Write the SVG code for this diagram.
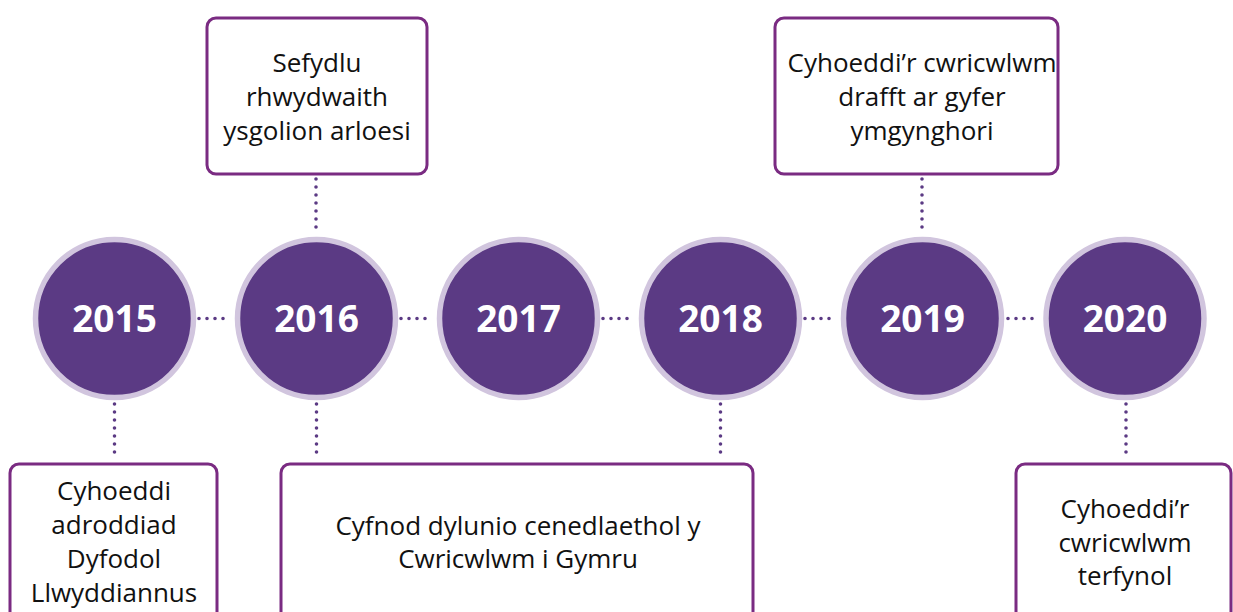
<svg xmlns="http://www.w3.org/2000/svg" width="1233" height="612" viewBox="0 0 1233 612">
<defs>
<style>
.ring{fill:#5b3a84;stroke:#d1c5de;stroke-width:5.5}
.year{fill:#ffffff;font-family:"Open Sans","Liberation Sans",sans-serif;font-weight:bold;font-size:37px;text-anchor:middle}
.box{fill:#ffffff;stroke:#7a2b82;stroke-width:3}
.lbl{fill:#111111;font-family:"Open Sans","Liberation Sans",sans-serif;font-size:26px;text-anchor:middle}
.dot{fill:none;stroke:#5b3a84;stroke-width:3.6;stroke-linecap:round;stroke-dasharray:0 8}
</style>
</defs>
<rect width="1233" height="612" fill="#ffffff"/>
<g id="connectors">
<line class="dot" x1="199" y1="318.5" x2="231" y2="318.5"/>
<line class="dot" x1="401" y1="318.5" x2="433" y2="318.5"/>
<line class="dot" x1="603" y1="318.5" x2="635" y2="318.5"/>
<line class="dot" x1="805" y1="318.5" x2="837" y2="318.5"/>
<line class="dot" x1="1008" y1="318.5" x2="1040" y2="318.5"/>
<line class="dot" x1="316" y1="179" x2="316" y2="232"/>
<line class="dot" x1="922" y1="179" x2="922" y2="232"/>
<line class="dot" x1="114.5" y1="404" x2="114.5" y2="457"/>
<line class="dot" x1="316.5" y1="404" x2="316.5" y2="457"/>
<line class="dot" x1="720.5" y1="404" x2="720.5" y2="457"/>
<line class="dot" x1="1126" y1="404" x2="1126" y2="457"/>
</g>
<g id="y2015"><circle class="ring" cx="114.5" cy="318.5" r="79"/><text class="year" x="114.5" y="331.5">2015</text></g>
<g id="y2016"><circle class="ring" cx="316.5" cy="318.5" r="79"/><text class="year" x="316.5" y="331.5">2016</text></g>
<g id="y2017"><circle class="ring" cx="518.5" cy="318.5" r="79"/><text class="year" x="518.5" y="331.5">2017</text></g>
<g id="y2018"><circle class="ring" cx="720.5" cy="318.5" r="79"/><text class="year" x="720.5" y="331.5">2018</text></g>
<g id="y2019"><circle class="ring" cx="922.5" cy="318.5" r="79"/><text class="year" x="922.5" y="331.5">2019</text></g>
<g id="y2020"><circle class="ring" cx="1125" cy="318.5" r="79"/><text class="year" x="1125" y="331.5">2020</text></g>
<g id="box2016"><rect class="box" x="207" y="18" width="220" height="156" rx="9"/>
<text class="lbl" x="317" y="72">Sefydlu</text><text class="lbl" x="317" y="106">rhwydwaith</text><text class="lbl" x="317" y="140">ysgolion arloesi</text></g>
<g id="box2019"><rect class="box" x="775" y="18" width="283" height="156" rx="9"/>
<text class="lbl" x="922" y="72">Cyhoeddi’r cwricwlwm</text><text class="lbl" x="922" y="106">drafft ar gyfer</text><text class="lbl" x="922" y="140">ymgynghori</text></g>
<g id="box2015"><rect class="box" x="10" y="464" width="207" height="170" rx="9"/>
<text class="lbl" x="114" y="500">Cyhoeddi</text><text class="lbl" x="114" y="534">adroddiad</text><text class="lbl" x="114" y="568">Dyfodol</text><text class="lbl" x="114" y="602">Llwyddiannus</text></g>
<g id="boxmid"><rect class="box" x="281" y="464" width="472" height="170" rx="9"/>
<text class="lbl" x="518" y="535">Cyfnod dylunio cenedlaethol y</text><text class="lbl" x="518" y="568">Cwricwlwm i Gymru</text></g>
<g id="box2020"><rect class="box" x="1016" y="464" width="215" height="170" rx="9"/>
<text class="lbl" x="1125" y="518">Cyhoeddi’r</text><text class="lbl" x="1125" y="552">cwricwlwm</text><text class="lbl" x="1125" y="585">terfynol</text></g>
</svg>
